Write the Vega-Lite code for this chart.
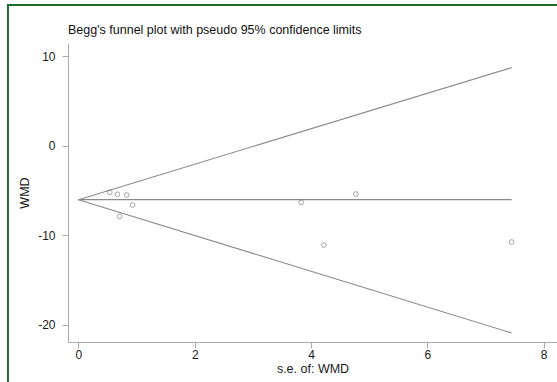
{
  "$schema": "https://vega.github.io/schema/vega-lite/v6.json",
  "width": 489,
  "height": 299,
  "autosize": {"type": "none"},
  "padding": {"left": 68, "top": 43, "right": 0, "bottom": 40},
  "background": "white",
  "config": {"view": {"stroke": null}, "font": "Liberation Sans"},
  "title": {
    "text": "Begg's funnel plot with pseudo 95% confidence limits",
    "anchor": "start",
    "frame": "group",
    "fontSize": 12.5,
    "fontWeight": "normal",
    "color": "#111111",
    "baseline": "alphabetic",
    "offset": 0,
    "dy": 43
  },
  "datasets": {
    "studies": [
      {"se": 0.54, "wmd": -5.18},
      {"se": 0.67, "wmd": -5.40},
      {"se": 0.83, "wmd": -5.48},
      {"se": 0.93, "wmd": -6.60},
      {"se": 0.71, "wmd": -7.86},
      {"se": 3.83, "wmd": -6.30},
      {"se": 4.77, "wmd": -5.37},
      {"se": 4.22, "wmd": -11.07},
      {"se": 7.45, "wmd": -10.73}
    ],
    "funnel": [
      {"line": "upper", "se": 0, "wmd": -6.0},
      {"line": "upper", "se": 7.45, "wmd": 8.75},
      {"line": "lower", "se": 0, "wmd": -6.0},
      {"line": "lower", "se": 7.45, "wmd": -20.9},
      {"line": "pooled", "se": 0, "wmd": -6.0},
      {"line": "pooled", "se": 7.45, "wmd": -6.0}
    ]
  },
  "layer": [
    {
      "data": {"name": "funnel"},
      "mark": {"type": "line", "color": "#8a8a8a", "strokeWidth": 1.1},
      "encoding": {
        "x": {
          "field": "se", "type": "quantitative",
          "scale": {"domain": [-0.18, 8.23], "nice": false, "zero": false},
          "axis": {
            "values": [0, 2, 4, 6, 8], "format": "d", "title": "s.e. of: WMD", "grid": false,
            "domainColor": "#aaaaaa", "tickColor": "#aaaaaa", "tickSize": 6,
            "labelFontSize": 12, "labelColor": "#1a1a1a", "labelPadding": 1,
            "titleFontSize": 12.5, "titleFontWeight": "normal", "titleColor": "#1a1a1a", "titlePadding": 2
          }
        },
        "y": {
          "field": "wmd", "type": "quantitative",
          "scale": {"domain": [-21.9, 11.5], "nice": false, "zero": false},
          "axis": {
            "values": [-20, -10, 0, 10], "title": "WMD", "grid": false,
            "labelExpr": "datum.value < 0 ? '-' + abs(datum.value) : '' + datum.value",
            "domainColor": "#aaaaaa", "tickColor": "#aaaaaa", "tickSize": 6,
            "labelFontSize": 12, "labelColor": "#1a1a1a", "labelPadding": 7,
            "titleFontSize": 12.5, "titleFontWeight": "normal", "titleColor": "#1a1a1a", "titlePadding": 6
          }
        },
        "detail": {"field": "line", "type": "nominal"}
      }
    },
    {
      "data": {"name": "studies"},
      "mark": {"type": "point", "shape": "circle", "filled": false, "color": "#707070", "size": 22, "strokeWidth": 0.9},
      "encoding": {
        "x": {"field": "se", "type": "quantitative"},
        "y": {"field": "wmd", "type": "quantitative"}
      }
    },
    {
      "data": {"values": [{}]},
      "mark": {"type": "rule", "color": "#1f6b32", "strokeWidth": 2},
      "encoding": {
        "x": {"datum": -1.2126, "type": "quantitative"},
        "y": {"datum": -40, "type": "quantitative"},
        "y2": {"datum": 15.8}
      }
    },
    {
      "data": {"values": [{}]},
      "mark": {"type": "rule", "color": "#1f6b32", "strokeWidth": 2},
      "encoding": {
        "x": {"datum": -1.23, "type": "quantitative"},
        "x2": {"datum": 10},
        "y": {"datum": 15.75, "type": "quantitative"}
      }
    }
  ]
}
